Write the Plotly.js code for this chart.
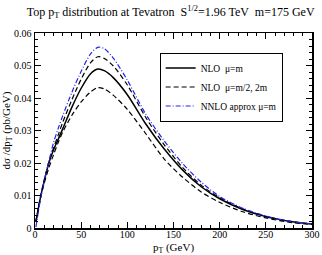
<!DOCTYPE html>
<html><head><meta charset="utf-8">
<script src="https://cdn.plot.ly/plotly-3.0.1.min.js"></script>
<style>html,body{margin:0;padding:0;background:#fff}#c{width:322px;height:255px}</style>
</head><body><div id="c"></div>
<script>
const pt = [1, 6, 10, 15, 20, 25, 30, 40, 50, 60, 68, 75, 85, 100, 120, 140, 160, 180, 200, 225, 250, 275, 300];
const nloMum = [0.0020, 0.0095, 0.0145, 0.0200, 0.0240, 0.0272, 0.0305, 0.0372, 0.0430, 0.0474, 0.0489, 0.0484, 0.0462, 0.0410, 0.0320, 0.0243, 0.0178, 0.0127, 0.0090, 0.0057, 0.0035, 0.0021, 0.0012];
const nloHalf = [0.0020, 0.0097, 0.0148, 0.0203, 0.0245, 0.0285, 0.0325, 0.0395, 0.0458, 0.0508, 0.0527, 0.0522, 0.0498, 0.0440, 0.0340, 0.0256, 0.0186, 0.0132, 0.0093, 0.0059, 0.0036, 0.0021, 0.0012];
const nloTwo = [0.0020, 0.0092, 0.0138, 0.0185, 0.0225, 0.0262, 0.0295, 0.0347, 0.0388, 0.0418, 0.0432, 0.0428, 0.0408, 0.0365, 0.0290, 0.0212, 0.0156, 0.0111, 0.0079, 0.0050, 0.0031, 0.0018, 0.0011];
const nnlo = [0.0003, 0.0090, 0.0145, 0.0205, 0.0262, 0.0305, 0.0345, 0.0418, 0.0482, 0.0535, 0.0556, 0.0552, 0.0522, 0.0455, 0.0350, 0.0268, 0.0198, 0.0141, 0.0097, 0.0061, 0.0037, 0.0021, 0.0012];
const names = ['NLO  μ=m', 'NLO  μ=m/2, 2m', 'NNLO approx μ=m'];
const xTitle = 'p<sub>T</sub> (GeV)';

const serif = 'Liberation Serif, Times New Roman, serif';
const traces = [
  {x: pt, y: nloMum, mode: 'lines', name: names[0], line: {color: '#000', width: 1.5, shape: 'spline', smoothing: 0.8, dash: 'solid'}},
  {x: pt, y: nloHalf, mode: 'lines', name: names[1], line: {color: '#000', width: 1.2, shape: 'spline', smoothing: 0.8, dash: '5px,3px'}},
  {x: pt, y: nloTwo, mode: 'lines', name: names[1], showlegend: false, line: {color: '#000', width: 1.2, shape: 'spline', smoothing: 0.8, dash: '5px,3px'}},
  {x: pt, y: nnlo, mode: 'lines', name: names[2], line: {color: '#2222ee', width: 1.2, shape: 'spline', smoothing: 0.8, dash: '5px,2px,1px,2px'}}
];
const axisCommon = {
  showgrid: false, zeroline: false, showline: true, linecolor: '#000', linewidth: 1.5, mirror: 'ticks',
  ticks: 'inside', ticklen: 6, tickwidth: 1, tickcolor: '#000',
  tickfont: {family: serif, size: 10, color: '#000'},
  minor: {ticks: 'inside', ticklen: 3, tickcolor: '#000', tickwidth: 1}
};
const layout = {
  width: 322, height: 255,
  margin: {l: 35, r: 10, t: 33, b: 27},
  paper_bgcolor: '#fff', plot_bgcolor: '#fff',
  title: {text: 'Top p<sub>T</sub> distribution at Tevatron  S<sup>1/2</sup>=1.96 TeV  m=175 GeV', font: {family: serif, size: 12, color: '#000'}, x: 0.53, xanchor: 'center', y: 0.955, yanchor: 'middle'},
  xaxis: Object.assign({}, axisCommon, {range: [0, 300], tick0: 0, dtick: 50, ticklabelstandoff: -4, minor: Object.assign({}, axisCommon.minor, {dtick: 10})}),
  yaxis: Object.assign({}, axisCommon, {range: [0, 0.06], tick0: 0, dtick: 0.01, minor: Object.assign({}, axisCommon.minor, {dtick: 0.002}),
    title: {text: 'dσ /dp<sub>T</sub> (pb/GeV)', font: {family: serif, size: 11, color: '#000'}, standoff: 4}}),
  annotations: [{text: xTitle, xref: 'paper', yref: 'paper', x: 0.5, y: -0.105, xanchor: 'center', yanchor: 'middle', showarrow: false,
    font: {family: serif, size: 11, color: '#000'}}],
  legend: {x: 0.45, y: 0.9, xanchor: 'left', yanchor: 'top', bgcolor: '#fff', bordercolor: '#000', borderwidth: 1,
    font: {family: serif, size: 9.5, color: '#000'}, tracegroupgap: 0, itemwidth: 30},
  showlegend: true
};
Plotly.newPlot('c', traces, layout, {displayModeBar: false, staticPlot: true});
</script></body></html>
